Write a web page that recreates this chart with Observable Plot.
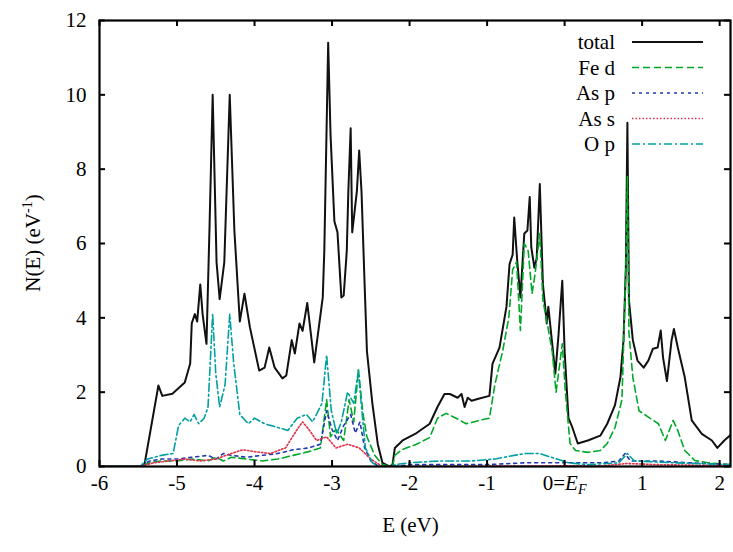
<!DOCTYPE html>
<html><head><meta charset="utf-8">
<script src="https://cdn.jsdelivr.net/npm/d3@7"></script>
<script src="https://cdn.jsdelivr.net/npm/@observablehq/plot@0.6"></script>
<style>body{margin:0;background:#fff} #chart{width:733px;height:552px}</style>
</head><body><div id="chart"></div>
<script>
// ---- data ----
const seriesNames = ["total", "Fe d", "As p", "As s", "O p"];
const xTicks = [-6, -5, -4, -3, -2, -1, 0, 1, 2];
const yTicks = [0, 2, 4, 6, 8, 10, 12];

const totalE = [-6.0,-5.48,-5.42,-5.24,-5.19,-5.06,-4.90,-4.83,-4.81,-4.77,-4.74,-4.70,-4.67,-4.62,-4.58,-4.54,-4.49,-4.45,-4.39,-4.32,-4.26,-4.19,-4.13,-4.06,-3.94,-3.87,-3.81,-3.74,-3.64,-3.59,-3.52,-3.48,-3.42,-3.38,-3.32,-3.23,-3.12,-3.10,-3.05,-3.02,-2.97,-2.93,-2.88,-2.85,-2.81,-2.79,-2.76,-2.74,-2.68,-2.65,-2.62,-2.58,-2.55,-2.48,-2.41,-2.35,-2.26,-2.22,-2.19,-2.09,-1.91,-1.74,-1.64,-1.55,-1.48,-1.38,-1.33,-1.29,-1.25,-1.20,-1.10,-0.97,-0.93,-0.84,-0.75,-0.71,-0.67,-0.65,-0.61,-0.57,-0.52,-0.48,-0.45,-0.43,-0.39,-0.36,-0.32,-0.28,-0.23,-0.21,-0.17,-0.12,-0.08,-0.03,0.00,0.05,0.10,0.17,0.30,0.46,0.55,0.65,0.72,0.76,0.79,0.81,0.83,0.88,0.94,1.02,1.08,1.14,1.20,1.24,1.27,1.32,1.38,1.41,1.46,1.55,1.64,1.77,1.90,1.97,2.06,2.14];
const totalN = [0,0,0.05,2.18,1.9,1.96,2.26,2.77,3.85,4.1,3.9,4.9,4.1,3.3,6.5,10.0,5.5,4.5,5.5,10.0,6.35,3.9,4.65,3.75,2.58,2.66,3.2,2.66,2.37,2.45,3.4,3.04,3.85,3.65,4.4,2.8,4.55,5.8,11.4,8.95,6.6,6.3,4.55,4.6,5.8,7.4,9.1,6.3,7.4,8.5,7.4,4.9,3.1,1.7,0.6,0.1,0,0.05,0.5,0.7,0.9,1.15,1.6,1.95,1.95,1.85,1.95,1.6,1.85,1.77,1.83,1.9,2.77,3.2,4.3,5.45,5.7,6.7,5.5,4.55,6.27,6.35,7.25,5.9,5.35,5.6,7.6,4.9,3.85,4.3,3.5,2.5,3.5,5.0,3.1,1.3,1.05,0.62,0.7,0.83,1.15,1.65,2.4,3.4,5.35,9.25,4.47,3.4,2.85,2.66,2.85,3.17,3.2,3.66,2.93,2.3,3.4,3.7,3.2,2.4,1.24,0.88,0.7,0.5,0.7,0.85];

const feDE = [-6.0,-5.48,-5.35,-5.2,-5.0,-4.8,-4.6,-4.5,-4.4,-4.3,-4.1,-3.9,-3.7,-3.5,-3.3,-3.15,-3.07,-3.02,-2.95,-2.85,-2.78,-2.72,-2.66,-2.6,-2.55,-2.45,-2.35,-2.22,-2.19,-2.1,-1.91,-1.74,-1.64,-1.53,-1.40,-1.27,-1.10,-0.97,-0.90,-0.80,-0.72,-0.67,-0.62,-0.57,-0.52,-0.47,-0.42,-0.38,-0.32,-0.28,-0.22,-0.16,-0.11,-0.03,0.01,0.07,0.14,0.30,0.46,0.55,0.65,0.74,0.79,0.81,0.83,0.88,0.96,1.08,1.21,1.30,1.40,1.46,1.55,1.68,1.85,2.14];
const feDN = [0,0,0.1,0.15,0.15,0.2,0.15,0.25,0.15,0.25,0.2,0.15,0.2,0.3,0.4,0.5,1.8,0.8,1.0,0.7,1.8,1.2,2.6,1.4,0.8,0.3,0.05,0,0.3,0.45,0.6,0.78,1.3,1.43,1.3,1.15,1.24,1.3,2.2,3.1,4.0,5.3,5.5,3.66,6.0,5.8,4.65,5.2,6.27,4.47,3.8,3.1,2.0,3.3,2.0,0.62,0.43,0.38,0.43,0.62,1.05,1.8,5.35,7.8,3.6,2.4,1.5,1.33,1.15,0.7,1.24,0.97,0.43,0.16,0.1,0.05];

const asPE = [-6.0,-5.48,-5.35,-5.2,-5.0,-4.8,-4.6,-4.5,-4.4,-4.3,-4.1,-3.9,-3.7,-3.5,-3.3,-3.15,-3.07,-3.0,-2.93,-2.85,-2.76,-2.7,-2.64,-2.58,-2.5,-2.4,-2.2,-2.0,-1.0,-0.5,0,0.5,0.7,0.78,0.85,1.2,1.6,2.14];
const asPN = [0,0,0.15,0.2,0.2,0.25,0.3,0.2,0.35,0.3,0.25,0.3,0.35,0.45,0.5,0.6,1.5,1.0,0.7,1.1,1.4,0.9,1.2,0.5,0.15,0,0,0.05,0.05,0.1,0.1,0.1,0.15,0.35,0.15,0.15,0.1,0.05];

const asSE = [-6.0,-5.48,-5.3,-5.1,-4.9,-4.7,-4.5,-4.3,-4.15,-4.0,-3.8,-3.6,-3.45,-3.38,-3.3,-3.2,-3.07,-2.95,-2.8,-2.65,-2.5,-2.35,-2.2,0.5,0.8,1.2,2.14];
const asSN = [0,0,0.1,0.15,0.2,0.15,0.2,0.35,0.45,0.4,0.35,0.5,1.0,1.2,1.0,0.7,0.8,0.5,0.6,0.5,0.2,0,0,0.02,0.08,0.05,0.02];

const oPE = [-6.0,-5.48,-5.38,-5.2,-5.05,-4.98,-4.9,-4.83,-4.78,-4.72,-4.65,-4.6,-4.54,-4.50,-4.45,-4.38,-4.32,-4.27,-4.19,-4.08,-4.0,-3.87,-3.7,-3.57,-3.45,-3.33,-3.25,-3.13,-3.07,-3.01,-2.94,-2.88,-2.8,-2.72,-2.66,-2.62,-2.57,-2.48,-2.4,-2.22,-2.19,-2.0,-1.6,-1.2,-0.9,-0.65,-0.5,-0.32,-0.1,0.05,0.3,0.7,0.81,0.9,1.4,2.14];
const oPN = [0,0,0.2,0.3,0.35,1.1,1.3,1.2,1.4,1.15,1.3,1.6,4.1,2.5,1.6,2.2,4.1,2.8,1.4,1.15,1.3,1.15,1.05,0.97,1.3,1.4,1.2,1.7,3.0,1.5,0.88,1.2,2.0,1.7,2.58,1.6,0.5,0.1,0,0,0.05,0.1,0.15,0.15,0.2,0.3,0.35,0.35,0.2,0.1,0.05,0.1,0.35,0.15,0.1,0.05];

// ---- styles ----
const styles = {
  "total": {color: "#111111", dash: null, width: 2},
  "Fe d":  {color: "#00a828", dash: "7,4", width: 1.6},
  "As p":  {color: "#2038b0", dash: "3,4", width: 1.6},
  "As s":  {color: "#e0304a", dash: "1.5,2", width: 1.6},
  "O p":   {color: "#00a0a0", dash: "8,3,2,3", width: 1.6}
};
const seriesData = {
  "total": [totalE, totalN],
  "Fe d": [feDE, feDN],
  "As p": [asPE, asPN],
  "As s": [asSE, asSN],
  "O p": [oPE, oPN]
};

const W = 733, H = 552, ML = 99, MR = 3, MT = 20, MB = 86;
const plotW = W - ML - MR, plotH = H - MT - MB;
const TL = 6;

const lineMarks = seriesNames.map(name => {
  const [E, N] = seriesData[name];
  const rows = E.map((e, i) => ({E: e, N: N[i]}));
  const s = styles[name];
  return Plot.line(rows, {x: "E", y: "N", stroke: s.color, strokeWidth: s.width,
    strokeDasharray: s.dash, clip: true, strokeLinejoin: "round"});
});

const chart = Plot.plot({
  width: W, height: H,
  marginLeft: ML, marginRight: MR, marginTop: MT, marginBottom: MB,
  style: {fontFamily: "'Liberation Serif', 'Times New Roman', serif", fontSize: "21px", background: "white", color: "black"},
  x: {domain: [-6, 2.14], ticks: xTicks, tickSize: 0, tickPadding: 9,
      tickFormat: d => d === 0 ? "0=EF" : String(d), label: null},
  y: {domain: [0, 12], ticks: yTicks, tickSize: 0, tickPadding: 13,
      tickFormat: d => String(d), label: null},
  marks: [
    ...lineMarks,
    Plot.tickX(xTicks, {x: d => d, insetTop: plotH - TL, stroke: "black", strokeWidth: 2}),
    Plot.tickX(xTicks, {x: d => d, insetBottom: plotH - TL, stroke: "black", strokeWidth: 2}),
    Plot.tickY(yTicks, {y: d => d, insetRight: plotW - TL, stroke: "black", strokeWidth: 2}),
    Plot.tickY(yTicks, {y: d => d, insetLeft: plotW - TL, stroke: "black", strokeWidth: 2}),
    Plot.frame({stroke: "black", strokeWidth: 2.2})
  ]
});
document.getElementById("chart").appendChild(chart);

// ---- text decorations ----
const svg = d3.select(chart);
svg.selectAll("text").each(function() {
  const t = d3.select(this);
  if (t.text() === "0=EF") {
    t.text("0=");
    t.append("tspan").attr("font-style", "italic").text("E");
    t.append("tspan").attr("font-style", "italic").attr("font-size", "14px").attr("dy", "4").text("F");
  }
});

const fam = "'Liberation Serif', 'Times New Roman', serif";
svg.append("text")
  .attr("x", ML + plotW / 2 - 4).attr("y", 532)
  .attr("text-anchor", "middle").attr("font-family", fam).attr("font-size", 21)
  .text("E (eV)");

const yl = svg.append("text")
  .attr("transform", `translate(40,${MT + plotH / 2}) rotate(-90)`)
  .attr("text-anchor", "middle").attr("font-family", fam).attr("font-size", 21);
yl.append("tspan").text("N(E) (eV");
yl.append("tspan").attr("font-size", 14).attr("dy", -8).text("-1");
yl.append("tspan").attr("dy", 8).text(")");

// legend
const lg = svg.append("g").attr("font-family", fam).attr("font-size", 21);
seriesNames.forEach((name, i) => {
  const y = 42 + i * 25.5;
  const s = styles[name];
  lg.append("text").attr("x", 615).attr("y", y).attr("dy", "0.35em")
    .attr("text-anchor", "end").text(name);
  lg.append("line").attr("x1", 632).attr("x2", 703).attr("y1", y).attr("y2", y)
    .attr("stroke", s.color).attr("stroke-width", s.width)
    .attr("stroke-dasharray", s.dash);
});
</script>
</body></html>
